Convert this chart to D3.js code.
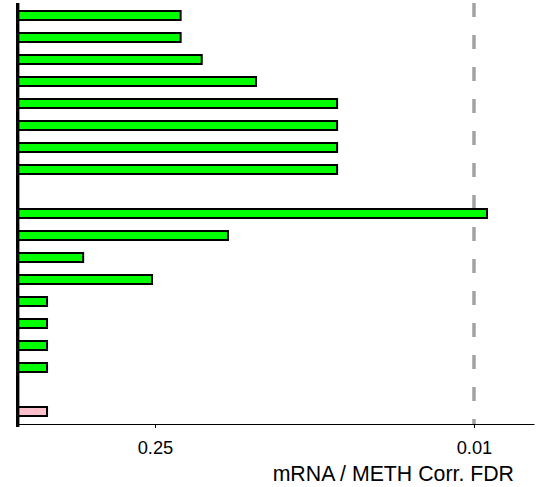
<!DOCTYPE html>
<html>
<head>
<meta charset="utf-8">
<script src="https://cdn.jsdelivr.net/npm/d3@7"></script>
<style>
  html, body { margin: 0; padding: 0; background: #fff; }
  svg { display: block; }
</style>
</head>
<body>
<svg id="chart" width="560" height="487"></svg>
<script>
// ---- data ----
const categories = ["r1","r2","r3","r4","r5","r6","r7","r8","gap1","r9","r10","r11","r12","r13","r14","r15","r16","gap2","r17"];
const fdrValues  = [0.193,0.193,0.156,0.0902,0.0398,0.0398,0.0398,0.0398,null,0.00877,0.1197,0.516,0.2576,0.743,0.743,0.743,0.743,null,0.743];
const direction  = ["neg","neg","neg","neg","neg","neg","neg","neg",null,"neg","neg","neg","neg","neg","neg","neg","neg",null,"pos"];
const tickFdr    = [0.25, 0.01];
const tickLabels = ["0.25", "0.01"];
const thresholdFdr = 0.01;
const axisTitle  = "mRNA / METH Corr. FDR";

// ---- layout ----
const svg = d3.select("#chart");
const tf = v => -Math.log10(v);

const x = d3.scaleLinear().domain([0, 2.263]).range([17.6, 534]);
const y = d3.scaleBand().domain(categories).range([4.5, 422.5]).paddingInner(0.5).paddingOuter(0.25);
const colour = d3.scaleOrdinal().domain(["neg","pos"]).range(["#00FF00","#FFC0CB"]);

const rows = categories.map((c, i) => ({c, v: fdrValues[i], d: direction[i]})).filter(r => r.v != null);

// threshold dashed line
svg.append("line")
  .attr("x1", x(tf(thresholdFdr))).attr("x2", x(tf(thresholdFdr)))
  .attr("y1", 3).attr("y2", 424)
  .attr("stroke", "#a3a3a3").attr("stroke-width", 3.5)
  .attr("stroke-dasharray", "14,18");

// bars
svg.append("g").selectAll("rect").data(rows).join("rect")
  .attr("x", x(0))
  .attr("y", r => y(r.c) + 1)
  .attr("width", r => x(tf(r.v)) - x(0))
  .attr("height", y.bandwidth() - 2)
  .attr("fill", r => colour(r.d))
  .attr("stroke", "#000").attr("stroke-width", 2);

// bottom axis
const xAxis = d3.axisBottom(x)
  .tickValues(tickFdr.map(tf))
  .tickFormat((d, i) => tickLabels[i])
  .tickSize(4).tickSizeOuter(0).tickPadding(13);
const gx = svg.append("g").attr("transform", "translate(0,424)").call(xAxis);
gx.select(".domain").attr("stroke", "#000").attr("stroke-width", 1.2);
gx.selectAll(".tick line").attr("stroke", "#000");
gx.selectAll(".tick text")
  .attr("font-family", "Liberation Sans, Arial, sans-serif")
  .attr("font-size", 18.3).attr("fill", "#000");

// left axis line
svg.append("line")
  .attr("x1", 17.7).attr("x2", 17.7).attr("y1", 3).attr("y2", 427)
  .attr("stroke", "#000").attr("stroke-width", 3.4);

// title
svg.append("text")
  .attr("x", 514).attr("y", 481)
  .attr("text-anchor", "end")
  .attr("font-family", "Liberation Sans, Arial, sans-serif")
  .attr("font-size", 21.3).attr("fill", "#000")
  .text(axisTitle);
</script>
</body>
</html>
